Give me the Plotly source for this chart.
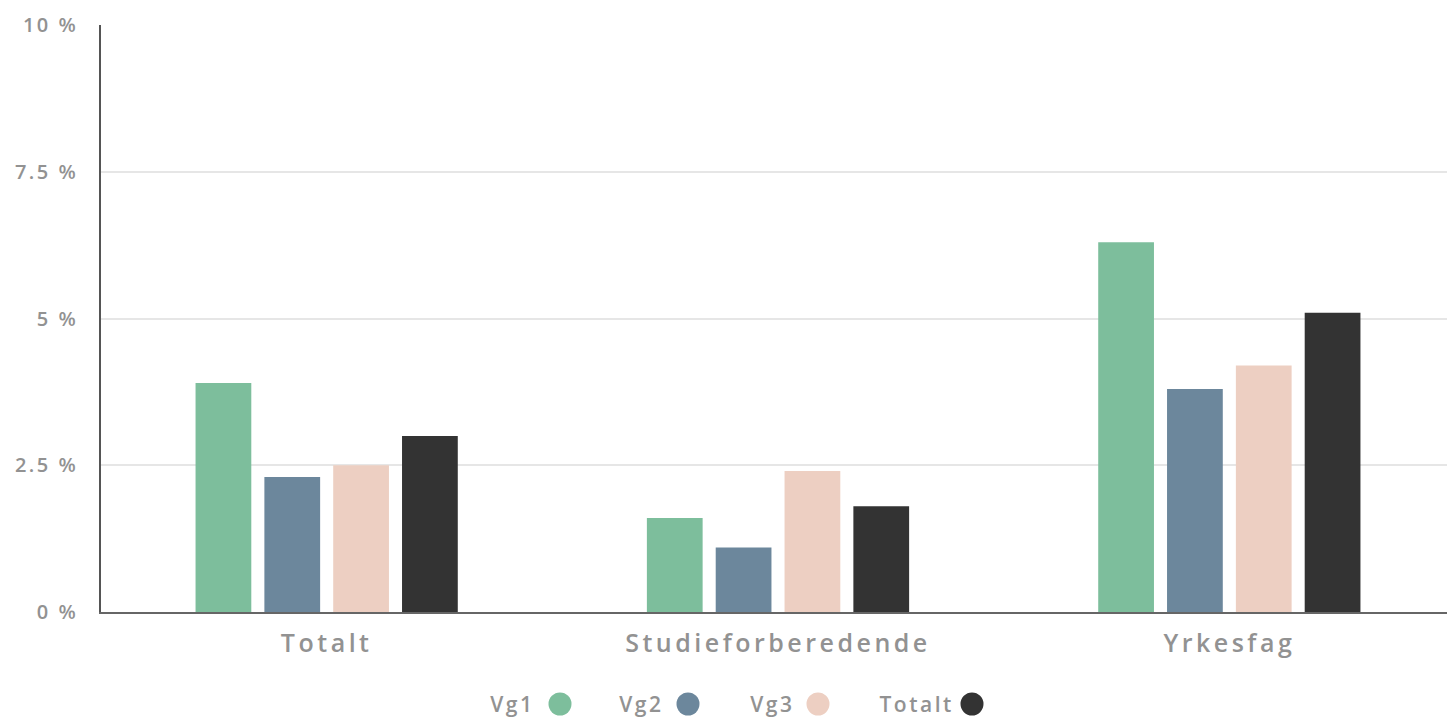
import plotly.graph_objects as go

categories = ["Totalt", "Studieforberedende", "Yrkesfag"]
series_names = ["Vg1", "Vg2", "Vg3", "Totalt"]
vg1 = [3.9, 1.6, 6.3]
vg2 = [2.3, 1.1, 3.8]
vg3 = [2.5, 2.4, 4.2]
totalt = [3.0, 1.8, 5.1]
series_values = [vg1, vg2, vg3, totalt]
colors = ["#7dbe9c", "#6c879c", "#edcfc2", "#333333"]
y_tickvals = [0, 2.5, 5, 7.5, 10]
y_ticktext = ["0 %", "2.5 %", "5 %", "7.5 %", "10 %"]

FONT = "'Open Sans', Lato, sans-serif"
TXT = "#929292"

fig = go.Figure()
for name, vals, col in zip(series_names, series_values, colors):
    fig.add_trace(go.Bar(x=categories, y=vals, name=name, marker=dict(color=col, line=dict(width=0)),
                         showlegend=False))

# custom legend (text then circle on the right)
text_right = [533, 662, 793, 948]
circle_c = [560, 688, 818, 972]
FIG_W = 1455
L, W = 101, FIG_W - 101
ypos = (612 - 704) / 587
shapes = []
annotations = []
for name, col, tr, cc in zip(series_names, colors, text_right, circle_c):
    annotations.append(dict(text=name, xref="paper", yref="paper", x=(tr - L) / W, y=ypos,
                            xanchor="right", yanchor="middle", showarrow=False,
                            font=dict(family=FONT, size=21, color=TXT, weight=600)))
    shapes.append(dict(type="circle", xref="paper", yref="paper", xsizemode="pixel", ysizemode="pixel",
                       xanchor=(cc - L) / W, yanchor=ypos, x0=-11.5, x1=11.5, y0=-11.5, y1=11.5,
                       fillcolor=col, line=dict(width=0)))

fig.update_layout(
    width=FIG_W, height=720,
    margin=dict(l=101, r=0, t=25, b=108),
    paper_bgcolor="white", plot_bgcolor="white",
    barmode="group", bargap=0.39, bargroupgap=0.19,
    font=dict(family=FONT, color=TXT),
    shapes=shapes, annotations=annotations,
    xaxis=dict(showline=True, linecolor="#666666", linewidth=2, ticks="",
               ticklabelstandoff=8,
               tickfont=dict(family=FONT, size=25, color=TXT, weight=600), showgrid=False),
    yaxis=dict(range=[0, 10], tickvals=y_tickvals, ticktext=y_ticktext,
               showline=True, linecolor="#555555", linewidth=1.5,
               gridcolor="#e6e6e6", gridwidth=1.5, zeroline=False,
               ticks="", ticklabelstandoff=17,
               tickfont=dict(family=FONT, size=20, color=TXT, weight=600)),
)

post = """
var s=document.createElement('style');
s.innerHTML='body{margin:0;padding:0;overflow:hidden;} .xtick text{letter-spacing:3.5px;} .ytick text{letter-spacing:2.5px;} .annotation-text{letter-spacing:2.5px;}';
document.head.appendChild(s);
"""
fig.write_html("out.html", post_script=post, config={"displayModeBar": False})
